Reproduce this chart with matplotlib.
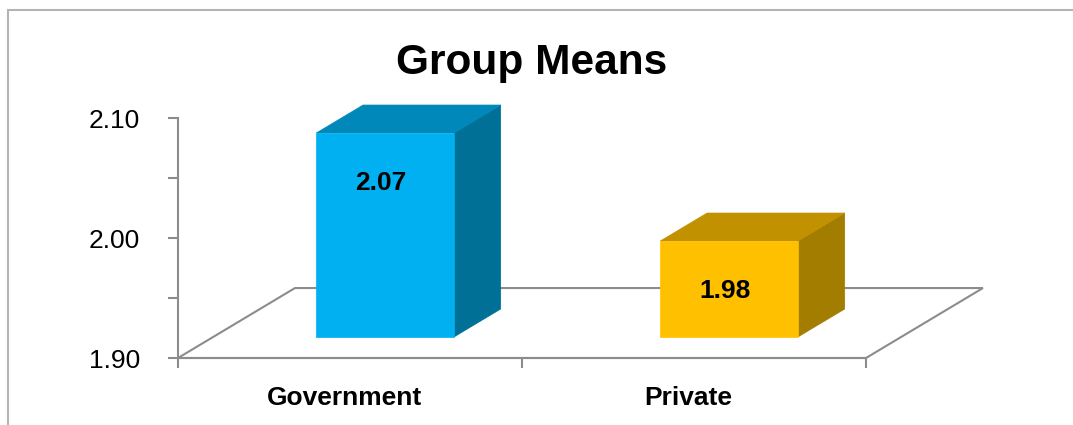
import matplotlib
matplotlib.use("Agg")
import matplotlib.pyplot as plt
from matplotlib.patches import Polygon, Rectangle
from matplotlib.transforms import ScaledTranslation

# Group means by school type
categories = ["Government", "Private"]
means = [2.07, 1.98]

front_colors = ["#00B0F0", "#FFC000"]
top_colors = ["#0088BA", "#C29100"]
side_colors = ["#007096", "#A37D00"]

y_min, y_max = 1.90, 2.10
depth_x, depth_y = 0.34, 0.0583   # full floor depth in data units
bar_width = 0.4
front, back = 0.3, 0.7            # bar position within the floor depth
grey = "#8C8C8C"

plt.rcParams['font.family'] = ['Liberation Sans', 'DejaVu Sans']

W, H = 1073, 425
fig = plt.figure(figsize=(W / 100, H / 100), dpi=100)
ax = fig.add_axes([178 / W, 67 / H, 688 / W, 240 / H])
ax.set_xlim(0, len(categories))
ax.set_ylim(y_min, y_max)

# floor of the 3D plot area
n = len(categories)
floor = Polygon([(0, y_min), (n, y_min), (n + depth_x, y_min + depth_y),
                 (depth_x, y_min + depth_y)], closed=True, fill=False,
                ec=grey, lw=1.5, clip_on=False, zorder=1)
ax.add_patch(floor)

ddx = (back - front) * depth_x
ddy = (back - front) * depth_y
for i, v in enumerate(means):
    c = i + 0.5
    x0 = c - bar_width / 2 + front * depth_x
    x1 = x0 + bar_width
    yb = y_min + front * depth_y
    yt = v + front * depth_y
    faces = [
        ([(x1, yb), (x1 + ddx, yb + ddy), (x1 + ddx, yt + ddy), (x1, yt)], side_colors[i]),
        ([(x0, yt), (x1, yt), (x1 + ddx, yt + ddy), (x0 + ddx, yt + ddy)], top_colors[i]),
        ([(x0, yb), (x1, yb), (x1, yt), (x0, yt)], front_colors[i]),
    ]
    for pts, col in faces:
        ax.add_patch(Polygon(pts, closed=True, fc=col, ec=col, lw=0.5,
                             clip_on=False, zorder=3))
    ax.annotate(f"{v:.2f}", xy=((x0 + x1) / 2, yt), xytext=(-3, -36),
                textcoords='offset points', ha='center', va='center',
                fontsize=19, fontweight='bold', zorder=4)

for side in ['top', 'right']:
    ax.spines[side].set_visible(False)
for side in ['left', 'bottom']:
    ax.spines[side].set_color(grey)
    ax.spines[side].set_linewidth(1.5)

ax.set_yticks([1.90, 2.00, 2.10])
ax.set_yticklabels([f"{t:.2f}" for t in [1.90, 2.00, 2.10]])
ax.set_yticks([1.95, 2.05], minor=True)
ax.tick_params(axis='y', which='both', length=7.2, width=1.5, color=grey,
               pad=20, labelsize=19)

ax.set_xticks(range(n + 1))
ax.set_xticklabels([''] * (n + 1))
ax.set_xticks([i + 0.5 for i in range(n)], minor=True)
ax.set_xticklabels(categories, minor=True, fontweight='bold')
ax.tick_params(axis='x', which='major', length=7.2, width=1.5, color=grey)
ax.tick_params(axis='x', which='minor', length=0, pad=20, labelsize=19)
shift = ScaledTranslation(-6 / 100, 0, fig.dpi_scale_trans)
for lbl in ax.get_xticklabels(minor=True):
    lbl.set_transform(lbl.get_transform() + shift)
ax.patch.set_visible(False)

fig.text(532 / W, 1 - 74 / H, "Group Means", ha='center', va='baseline',
         fontsize=30.5, fontweight='bold')

# chart border
fig.add_artist(Rectangle((8 / W, -0.1), 1.2, 1 - 9.5 / H + 0.1,
                         transform=fig.transFigure, fill=False,
                         ec='#B4B4B4', lw=1.5))

fig.savefig("out.png", dpi=100)
